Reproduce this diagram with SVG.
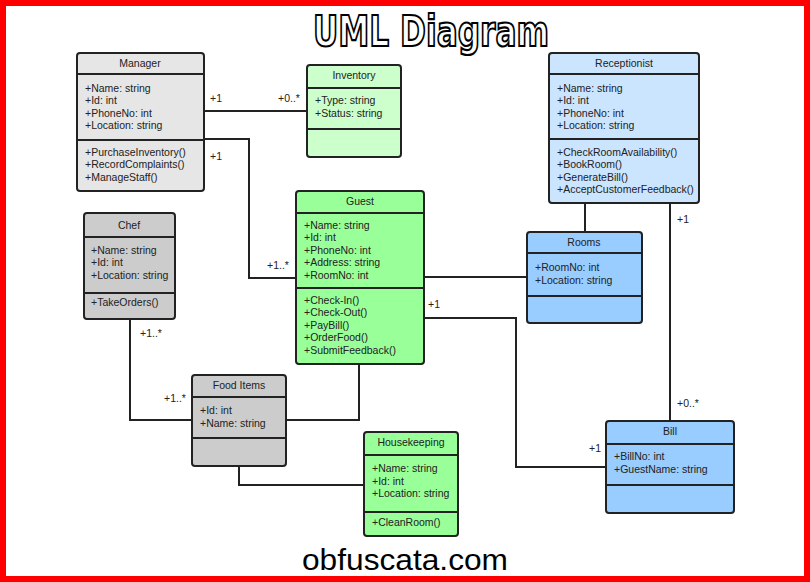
<svg xmlns="http://www.w3.org/2000/svg" width="810" height="582" viewBox="0 0 810 582">
<style>
text{font-family:"Liberation Sans",Arial,sans-serif;font-size:10.5px;fill:#222}
.h{text-anchor:middle}
.b{stroke:#222;stroke-width:2}
.c{fill:none;stroke:#222;stroke-width:2}
.gray{fill:#e6e6e6}.dg{fill:#cccccc}.lg{fill:#ccffcc}.g{fill:#99ff99}.lb{fill:#cce5ff}.bl{fill:#99ccff}
</style>
<rect x="0" y="0" width="810" height="582" fill="#fff"/>
<rect x="3" y="3" width="804" height="576" fill="none" stroke="#f00" stroke-width="6"/>
<text x="431" y="46" class="h" style="font-family:'DejaVu Sans',sans-serif;font-weight:bold;font-size:43px;fill:#fff;stroke:#000;stroke-width:2.2" textLength="236" lengthAdjust="spacingAndGlyphs">UML Diagram</text>
<g id="connectors">
<path class="c" d="M204 111H307"/>
<path class="c" d="M204 139H249V278H296"/>
<path class="c" d="M424 277H527"/>
<path class="c" d="M585 203V232"/>
<path class="c" d="M670 203V421"/>
<path class="c" d="M424 318H516V467H606"/>
<path class="c" d="M130 319V420H192"/>
<path class="c" d="M359 364V420H286"/>
<path class="c" d="M239 466V485H364"/>
<text x="210" y="102">+1</text><text x="278" y="102">+0..*</text>
<text x="210" y="160">+1</text><text x="267" y="269">+1..*</text>
<text x="677" y="223">+1</text><text x="677" y="407">+0..*</text>
<text x="428" y="308">+1</text><text x="589" y="452">+1</text>
<text x="140" y="337">+1..*</text><text x="164" y="402">+1..*</text>
</g>
<g id="manager">
<rect class="b gray" x="77" y="53" width="127" height="138" rx="3"/>
<path class="b" d="M77 74H204M77 140H204"/>
<text x="140" y="67" class="h">Manager</text>
<text x="85" y="92">+Name: string</text><text x="85" y="104">+Id: int</text><text x="85" y="117">+PhoneNo: int</text><text x="85" y="129">+Location: string</text>
<text x="85" y="156">+PurchaseInventory()</text><text x="85" y="168">+RecordComplaints()</text><text x="85" y="181">+ManageStaff()</text>
</g>
<g id="inventory">
<rect class="b lg" x="307" y="65" width="94" height="92" rx="3"/>
<path class="b" d="M307 88H401M307 129H401"/>
<text x="354" y="79" class="h">Inventory</text>
<text x="315" y="104">+Type: string</text><text x="315" y="117">+Status: string</text>
</g>
<g id="receptionist">
<rect class="b lb" x="549" y="53" width="150" height="150" rx="3"/>
<path class="b" d="M549 74H699M549 139H699"/>
<text x="624" y="67" class="h">Receptionist</text>
<text x="557" y="92">+Name: string</text><text x="557" y="104">+Id: int</text><text x="557" y="117">+PhoneNo: int</text><text x="557" y="129">+Location: string</text>
<text x="557" y="156">+CheckRoomAvailability()</text><text x="557" y="168">+BookRoom()</text><text x="557" y="181">+GenerateBill()</text><text x="557" y="193">+AcceptCustomerFeedback()</text>
</g>
<g id="guest">
<rect class="b g" x="296" y="191" width="128" height="173" rx="3"/>
<path class="b" d="M296 213H424M296 288H424"/>
<text x="360" y="205" class="h">Guest</text>
<text x="304" y="229">+Name: string</text><text x="304" y="241">+Id: int</text><text x="304" y="254">+PhoneNo: int</text><text x="304" y="266">+Address: string</text><text x="304" y="279">+RoomNo: int</text>
<text x="304" y="304">+Check-In()</text><text x="304" y="316">+Check-Out()</text><text x="304" y="329">+PayBill()</text><text x="304" y="341">+OrderFood()</text><text x="304" y="354">+SubmitFeedback()</text>
</g>
<g id="chef">
<rect class="b dg" x="84" y="213" width="91" height="106" rx="3"/>
<path class="b" d="M84 237H175M84 293H175"/>
<text x="129" y="229" class="h">Chef</text>
<text x="91" y="254">+Name: string</text><text x="91" y="266">+Id: int</text><text x="91" y="279">+Location: string</text>
<text x="91" y="306">+TakeOrders()</text>
</g>
<g id="rooms">
<rect class="b bl" x="527" y="232" width="115" height="91" rx="3"/>
<path class="b" d="M527 253H642M527 296H642"/>
<text x="584" y="246" class="h">Rooms</text>
<text x="535" y="271">+RoomNo: int</text><text x="535" y="284">+Location: string</text>
</g>
<g id="fooditems">
<rect class="b dg" x="192" y="375" width="94" height="91" rx="3"/>
<path class="b" d="M192 397H286M192 438H286"/>
<text x="239" y="389" class="h">Food Items</text>
<text x="200" y="414">+Id: int</text><text x="200" y="427">+Name: string</text>
</g>
<g id="housekeeping">
<rect class="b g" x="364" y="432" width="94" height="104" rx="3"/>
<path class="b" d="M364 455H458M364 512H458"/>
<text x="411" y="446" class="h">Housekeeping</text>
<text x="372" y="472">+Name: string</text><text x="372" y="485">+Id: int</text><text x="372" y="497">+Location: string</text>
<text x="372" y="526">+CleanRoom()</text>
</g>
<g id="bill">
<rect class="b bl" x="606" y="421" width="128" height="92" rx="3"/>
<path class="b" d="M606 444H734M606 485H734"/>
<text x="670" y="435" class="h">Bill</text>
<text x="614" y="460">+BillNo: int</text><text x="614" y="473">+GuestName: string</text>
</g>
<text x="405" y="570" class="h" style="font-size:30px;fill:#000" textLength="206" lengthAdjust="spacingAndGlyphs">obfuscata.com</text>
</svg>
